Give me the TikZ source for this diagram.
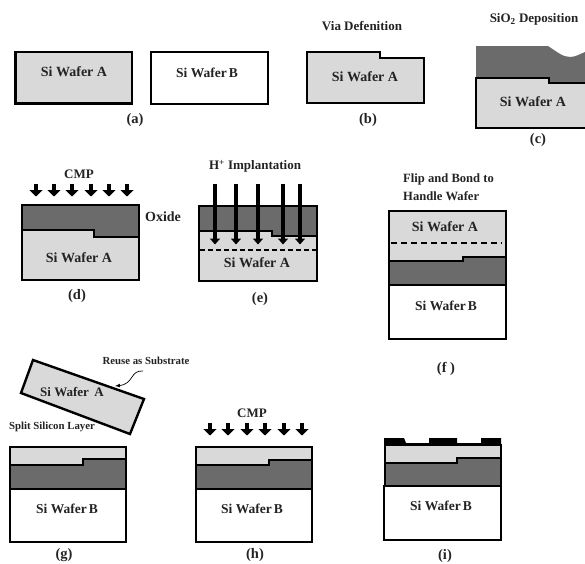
\documentclass[tikz,border=0pt]{standalone}
\usepackage{fontspec}
\setmainfont{Liberation Serif}
\usepackage{xcolor}
\usetikzlibrary{arrows.meta}
\definecolor{mylight}{RGB}{217,217,217}
\definecolor{mydark}{RGB}{107,107,107}
\definecolor{mytext}{RGB}{35,35,35}
\newcommand{\waferB}{Si Wafer\kern2pt B}
\tikzset{
lbl/.style={font=\bfseries\fontsize{13}{15}\selectfont,text=mytext,inner sep=0pt},
caplbl/.style={font=\bfseries\fontsize{14.5}{16}\selectfont,text=mytext,inner sep=0pt},
waferlbl/.style={font=\bfseries\fontsize{14}{16}\selectfont,text=mytext,inner sep=0pt},
bondlbl/.style={font=\bfseries\fontsize{13.5}{16}\selectfont,text=mytext,inner sep=0pt},
smalllbl/.style={font=\bfseries\fontsize{10.8}{12}\selectfont,text=mytext,inner sep=0pt},
siA/.style={fill=mylight,draw=black,line width = 2.2},
siB/.style={fill=white,draw=black,line width = 2.2},
oxide/.style={fill=mydark},
cmparrow/.style={-{Triangle[width=13pt,length=6.5pt]},line width = 4,black},
implarrow/.style={-{Triangle[width=10pt,length=6pt]},line width = 3.2,black}
}

\begin{document}
\begin{tikzpicture}[x=1pt,y=-1pt]
\useasboundingbox (0,0) rectangle (585,563);

%(a):
\draw[siA] (15.5,52) rectangle (132,103.5);
\draw[siB] (151,52) rectangle (268,104);
\node[waferlbl] (txtAa) at (74,72) {Si Wafer A};
\node[bondlbl] (txtBa) at (207,73) {\waferB};
\node[caplbl] (capa) at (135,120) {(a)};

%(b):
\draw[siA] (307,52) -- (380,52) -- (380,58) -- (424,58) -- (424,103) -- (307,103) -- cycle;
\node[lbl] (titleb) at (362,26) {Via Defenition};
\node[waferlbl] (txtAb) at (365,77) {Si Wafer A};
\node[caplbl] (capb) at (368,120) {(b)};

%(c):
\fill[oxide] (476,46) -- (548,46) .. controls (557,52) and (563,57) .. (570,57) .. controls (575,57) and (580,54) .. (585,52) -- (585,83) -- (476,83) -- cycle;
\fill[color=mylight] (476,78) -- (549,78) -- (549,83) -- (585,83) -- (585,128) -- (476,128) -- cycle;
\draw[black,line width = 1.8] (585,83) -- (549,83) -- (549,78) -- (476,78) -- (476,128) -- (585,128);
\node[lbl] (titlec) at (534,19) {SiO\textsubscript{2} Deposition};
\node[waferlbl] (txtAc) at (533,102) {Si Wafer A};
\node[caplbl] (capc) at (538,140) {(c)};

%(d):
\draw[oxide,draw=black,line width = 2.2] (22,205) rectangle (139,237);
\draw[siA] (22,230) -- (94,230) -- (94,237) -- (139,237) -- (139,280) -- (22,280) -- cycle;
\foreach \x in {36,54,72,91,109,127}
  \draw[cmparrow] (\x,184) -- (\x,196.5);
\node[lbl] (titled) at (79,174) {CMP};
\node[waferlbl] (oxd) at (163,217) {Oxide};
\node[waferlbl] (txtAd) at (79,258) {Si Wafer A};
\node[caplbl] (capd) at (77,296) {(d)};

%(e):
\draw[oxide,draw=black,line width = 2.2] (199,206) rectangle (317,236);
\draw[siA] (199,231) -- (272,231) -- (272,236) -- (317,236) -- (317,281) -- (199,281) -- cycle;
\draw[black,line width = 1.6,dashed,dash pattern=on 5pt off 3pt] (200,250) -- (316,250);
\foreach \x in {215,236,258,283,300}
  \draw[implarrow] (\x,184) -- (\x,244.5);
\node[lbl] (titlee) at (255,166) {H\textsuperscript{+} Implantation};
\node[waferlbl] (txtAe) at (257,263) {Si Wafer A};
\node[caplbl] (cape) at (260,299) {(e)};

%(f):
\draw[siA] (389,211) rectangle (506,262);
\draw[oxide,draw=black,line width = 1.6] (389,261) -- (463,261) -- (463,257) -- (506,257) -- (506,285) -- (389,285) -- cycle;
\draw[siB] (389,285) rectangle (506,339);
\draw[black,line width = 1.2,dashed,dash pattern=on 6pt off 4pt] (391,243) -- (502,243);
\node[lbl,anchor=west,font=\bfseries\fontsize{12.6}{15}\selectfont] (titlef) at (403,179) {Flip and Bond to};
\node[lbl,anchor=west,font=\bfseries\fontsize{12.6}{15}\selectfont] (titlefb) at (403,196) {Handle Wafer};
\node[waferlbl] (txtAf) at (445,227) {Si Wafer A};
\node[bondlbl] (txtBf) at (446,306) {\waferB};
\node[caplbl] (capf) at (446,369) {(f )};

%(g):
\draw[siA,line width = 2.4] (33,360) -- (144,399) -- (130,434) -- (21,393) -- cycle;
\node[lbl] (txtAg) at (72,392) {Si Wafer\, A};
\node[smalllbl] (reuse) at (146,361) {Reuse as Substrate};
\node[smalllbl] (split) at (52,427) {Split Silicon Layer};
\coordinate (R1) at (143,371);
\coordinate (R2) at (115,386);
\draw[-latex,line width = 0.7,black] (R1) .. controls (130,370) and (134,384) .. (R2);

\begin{scope}
\draw[siA] (10,447) rectangle (126,466);
\draw[oxide,draw=black,line width = 1.6] (10,465) -- (83,465) -- (83,459) -- (126,459) -- (126,489) -- (10,489) -- cycle;
\draw[siB] (10,489) rectangle (126,542);
\node[bondlbl] (txtBg) at (67,509) {\waferB};
\end{scope}
\node[caplbl] (capg) at (64,555) {(g)};

%(h):
\begin{scope}[shift={(186,0)}]
\draw[siA] (10,447) rectangle (126,466);
\draw[oxide,draw=black,line width = 1.6] (10,465) -- (83,465) -- (83,460) -- (126,460) -- (126,489) -- (10,489) -- cycle;
\draw[siB] (10,489) rectangle (126,542);
\node[bondlbl] (txtBh) at (66,509) {\waferB};
\end{scope}
\foreach \x in {210,228,247,265,284,302}
  \draw[cmparrow] (\x,423) -- (\x,435.5);
\node[lbl] (titleh) at (252,413) {CMP};
\node[caplbl] (caph) at (255,555) {(h)};

%(i):
\fill[black] (384,438) -- (404,438) -- (406,443) -- (429,443) -- (429,438) -- (457,438) -- (457,443) -- (481,443) -- (481,438) -- (501,438) -- (501,446) -- (384,446) -- cycle;
\draw[siA,line width = 1.6] (385,445) rectangle (501,464);
\draw[oxide,draw=black,line width = 1.3] (385,463) -- (457,463) -- (457,458) -- (501,458) -- (501,486) -- (385,486) -- cycle;
\draw[siB,line width = 1.8] (384,486) rectangle (501,540);
\node[bondlbl] (txtBi) at (441,506) {\waferB};
\node[caplbl] (capi) at (445,556) {(i)};
\end{tikzpicture}
\end{document}
